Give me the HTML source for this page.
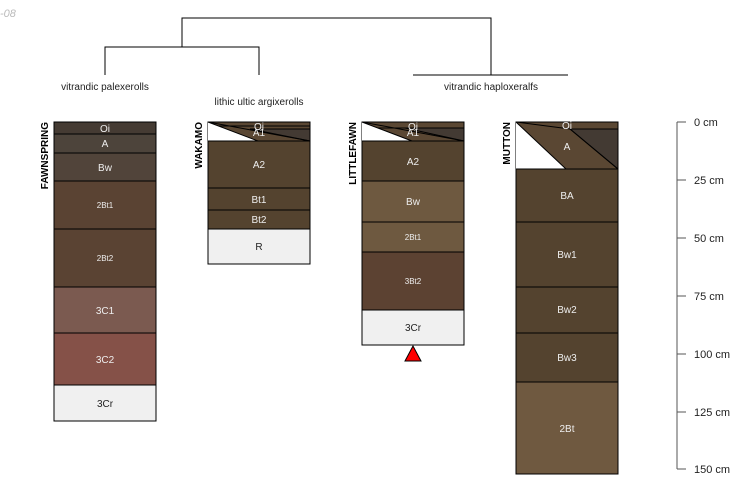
<!DOCTYPE html>
<html><head><style>body{margin:0;background:#fff}svg{display:block}text{font-family:"Liberation Sans",sans-serif}</style></head><body>
<svg width="750" height="500" viewBox="0 0 750 500" xmlns="http://www.w3.org/2000/svg">
<text x="0" y="17" font-size="11" font-style="italic" fill="#bbb">-08</text>
<g stroke="#000" stroke-width="1" fill="none">
<polyline points="182,47 182,18 491,18 491,75"/>
<polyline points="105,75 105,47 259,47 259,75"/>
<line x1="413" y1="75" x2="568" y2="75"/>
</g>
<g font-size="10" fill="#222" text-anchor="middle">
<text x="105" y="90">vitrandic palexerolls</text>
<text x="259" y="105">lithic ultic argixerolls</text>
<text x="491" y="90">vitrandic haploxeralfs</text>
</g>
<g font-size="10" font-weight="bold" fill="#000">
<text transform="translate(48,122) rotate(-90)" text-anchor="end">FAWNSPRING</text>
<text transform="translate(202,122) rotate(-90)" text-anchor="end">WAKAMO</text>
<text transform="translate(356,122) rotate(-90)" text-anchor="end">LITTLEFAWN</text>
<text transform="translate(510,122) rotate(-90)" text-anchor="end">MUTTON</text>
</g>
<g stroke="#000" stroke-width="1">
<rect x="54" y="122" width="102" height="12" fill="#453b33"/>
<rect x="54" y="134" width="102" height="19" fill="#4d443b"/>
<rect x="54" y="153" width="102" height="28" fill="#51443a"/>
<rect x="54" y="181" width="102" height="48" fill="#5a4333"/>
<rect x="54" y="229" width="102" height="58" fill="#5a4333"/>
<rect x="54" y="287" width="102" height="46" fill="#7b5a50"/>
<rect x="54" y="333" width="102" height="52" fill="#855148"/>
<rect x="54" y="385" width="102" height="36" fill="#f0f0f0"/>
<rect x="208" y="122" width="102" height="19" fill="#5a4733"/>
<polygon points="250,129 310,129 310,141" fill="#433a33"/>
<line x1="208" y1="126" x2="310" y2="126"/>
<polygon points="208,122 258,141 208,141" fill="#fff" stroke="none"/>
<line x1="208" y1="122" x2="258" y2="141"/>
<line x1="208" y1="122" x2="310" y2="141"/>
<rect x="208" y="141" width="102" height="47" fill="#54432f"/>
<rect x="208" y="188" width="102" height="22" fill="#54432f"/>
<rect x="208" y="210" width="102" height="19" fill="#54432f"/>
<rect x="208" y="229" width="102" height="35" fill="#f0f0f0"/>
<rect x="362" y="122" width="102" height="19" fill="#5a4733"/>
<polygon points="405,128 464,128 464,141" fill="#433a33"/>
<line x1="362" y1="128" x2="464" y2="128"/>
<polygon points="362,122 412,141 362,141" fill="#fff" stroke="none"/>
<line x1="362" y1="122" x2="412" y2="141"/>
<line x1="362" y1="122" x2="464" y2="141"/>
<rect x="362" y="141" width="102" height="40" fill="#54432f"/>
<rect x="362" y="181" width="102" height="41" fill="#6e5940"/>
<rect x="362" y="222" width="102" height="30" fill="#6e5940"/>
<rect x="362" y="252" width="102" height="58" fill="#5c4232"/>
<rect x="362" y="310" width="102" height="35" fill="#f0f0f0"/>
<polygon points="413,346 405,361 421,361" fill="#f00"/>
<rect x="516" y="122" width="102" height="47" fill="#5a4733"/>
<polygon points="570,129 618,129 618,169" fill="#433a33"/>
<line x1="570" y1="129" x2="618" y2="129"/>
<polygon points="516,122 566,169 516,169" fill="#fff" stroke="none"/>
<line x1="516" y1="122" x2="566" y2="169"/>
<line x1="570" y1="129" x2="618" y2="169"/>
<line x1="516" y1="122" x2="570" y2="129"/>
<rect x="516" y="169" width="102" height="53" fill="#54432f"/>
<rect x="516" y="222" width="102" height="65" fill="#54432f"/>
<rect x="516" y="287" width="102" height="46" fill="#54432f"/>
<rect x="516" y="333" width="102" height="49" fill="#54432f"/>
<rect x="516" y="382" width="102" height="92" fill="#6f5940"/>
</g>
<g font-size="10" fill="#eee" text-anchor="middle">
<text x="105" y="132">Oi</text><text x="105" y="147">A</text><text x="105" y="171">Bw</text>
<text x="105" y="208" font-size="8">2Bt1</text><text x="105" y="261" font-size="8">2Bt2</text>
<text x="105" y="314">3C1</text><text x="105" y="363">3C2</text><text x="105" y="407" fill="#222">3Cr</text>
<text x="259" y="130">Oi</text><text x="259" y="136">A1</text><text x="259" y="168">A2</text>
<text x="259" y="203">Bt1</text><text x="259" y="223">Bt2</text><text x="259" y="250" fill="#222">R</text>
<text x="413" y="130">Oi</text><text x="413" y="136">A1</text><text x="413" y="165">A2</text>
<text x="413" y="205">Bw</text><text x="413" y="240" font-size="8">2Bt1</text><text x="413" y="284" font-size="8">3Bt2</text>
<text x="413" y="331" fill="#222">3Cr</text>
<text x="567" y="129">Oi</text><text x="567" y="150">A</text><text x="567" y="199">BA</text>
<text x="567" y="258">Bw1</text><text x="567" y="313">Bw2</text><text x="567" y="361">Bw3</text><text x="567" y="432">2Bt</text>
</g>
<g stroke="#555" stroke-width="1">
<line x1="677" y1="122" x2="677" y2="469"/>
<line x1="677" y1="122" x2="686" y2="122"/><line x1="677" y1="180" x2="686" y2="180"/>
<line x1="677" y1="238" x2="686" y2="238"/><line x1="677" y1="296" x2="686" y2="296"/>
<line x1="677" y1="354" x2="686" y2="354"/><line x1="677" y1="412" x2="686" y2="412"/>
<line x1="677" y1="469" x2="686" y2="469"/>
</g>
<g font-size="11" fill="#222">
<text x="694" y="126">0 cm</text><text x="694" y="184">25 cm</text><text x="694" y="242">50 cm</text>
<text x="694" y="300">75 cm</text><text x="694" y="358">100 cm</text><text x="694" y="416">125 cm</text><text x="694" y="473">150 cm</text>
</g>
</svg>
</body></html>
